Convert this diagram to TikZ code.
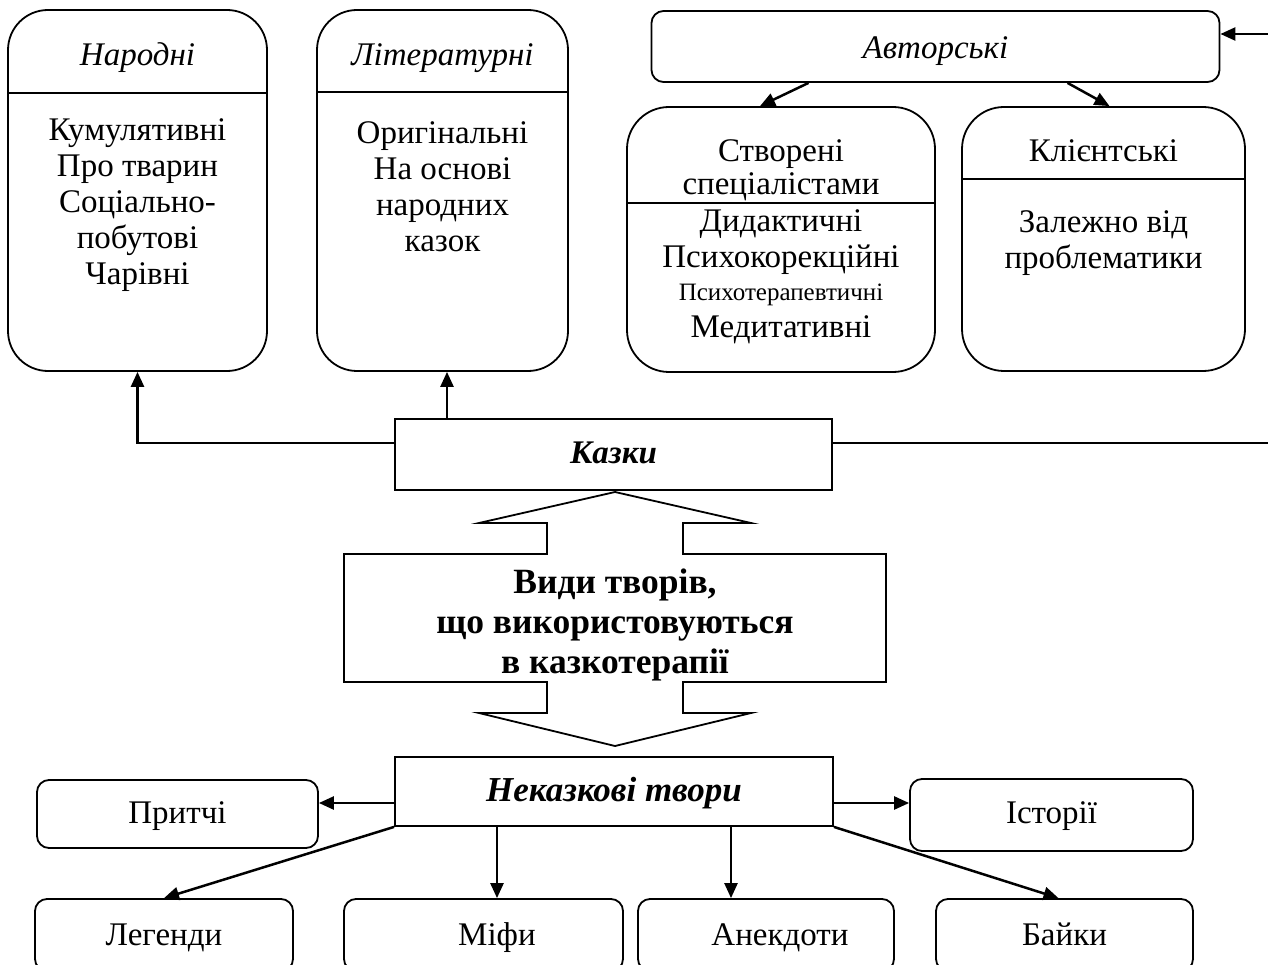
\documentclass[tikz,border=0pt]{standalone}
\usepackage{fontspec}
\setmainfont{Liberation Serif}
\usetikzlibrary{arrows.meta}
\begin{document}
\begin{tikzpicture}[x=1pt,y=-1pt,
  box/.style={draw,line width=1.8pt,inner sep=0pt},
  bigbox/.style={box,rounded corners=40pt},
  smallbox/.style={box,rounded corners=12pt},
  txt/.style={align=center,inner sep=0pt,font=\fontsize{33}{36}\selectfont},
  one/.style={text height=26pt,text depth=5pt},
  btxt/.style={align=center,inner sep=0pt,font=\fontsize{35.5}{40}\selectfont\bfseries},
  divider/.style={line width=1.8pt},
  arr/.style={line width=2.5pt,-{Triangle[length=15pt,width=13pt]}}]
\useasboundingbox (0,0) rectangle (1268,965);

% top-left compartments
\node[bigbox,minimum width=259pt,minimum height=361pt] (narodni) at (137.5,190.5) {};
\draw[divider] (8,93) -- (267,93);
\node[txt,one] (narodniH) at (137.5,55) {\itshape Народні};
\node[txt] (narodniB) at (137.5,205) {Кумулятивні\\Про тварин\\Соціально-\\побутові\\Чарівні};

\node[bigbox,minimum width=251pt,minimum height=361pt] (literaturni) at (442.5,190.5) {};
\draw[divider] (317,92) -- (568,92);
\node[txt,one] (literaturniH) at (442.5,55) {\itshape Літературні};
\node[txt] (literaturniB) at (442.5,187) {Оригінальні\\На основі\\народних\\казок};

% authors
\node[smallbox,minimum width=568pt,minimum height=71pt] (avtorski) at (935.5,46.5) {};
\node[txt,one] (avtorskiT) at (935.5,48) {\itshape Авторські};

\node[bigbox,rounded corners=42pt,minimum width=308pt,minimum height=265pt] (stvoreni) at (781,239.5) {};
\draw[divider] (627,203) -- (935,203);
\node[txt,one] (stvoreniH1) at (781,151) {Створені};
\node[txt,one] (stvoreniH2) at (781,184) {спеціалістами};
\node[txt,one] (s1) at (781,221) {Дидактичні};
\node[txt,one] (s2) at (781,257) {Психокорекційні};
\node[txt,font=\fontsize{25}{30}\selectfont,text height=19pt,text depth=3pt] (s3) at (781,293) {Психотерапевтичні};
\node[txt,one] (s4) at (781,327) {Медитативні};

\node[bigbox,rounded corners=42pt,minimum width=283pt,minimum height=264pt] (klientski) at (1103.5,239) {};
\draw[divider] (962,179) -- (1245,179);
\node[txt,one] (klientskiH) at (1103.5,151) {Клієнтські};
\node[txt] (klientskiB) at (1103.5,243) {Залежно від\\проблематики};

\draw[arr] ([xshift=-127pt]avtorski.south) -- ([xshift=-21pt]stvoreni.north);
\draw[arr] ([xshift=132pt]avtorski.south) -- ([xshift=6pt]klientski.north);

% fairy tales
\node[box,minimum width=437pt,minimum height=71pt] (kazky) at (613.5,454.5) {};
\node[txt,one,font=\fontsize{33}{36}\selectfont\bfseries\itshape] (kazkyT) at (613.5,453) {Казки};

\draw[arr] ([yshift=11.5pt]kazky.west) -| (narodni.south);
\draw[arr] ([xshift=4.5pt]literaturni.south |- kazky.north) -- ([xshift=4.5pt]literaturni.south);
\coordinate (rturn) at (1285,443);
\draw[arr] ([yshift=11.5pt]kazky.east) -- (rturn) |- ([yshift=12.5pt]avtorski.east);

% double arrow
\draw[line width=1.8pt] (615,492) -- (751,523) -- (683,523) -- (683,554) -- (886,554)
  -- (886,682) -- (683,682) -- (683,713) -- (751,713) -- (615,746) -- (479,713)
  -- (547,713) -- (547,682) -- (344,682) -- (344,554) -- (547,554) -- (547,523)
  -- (479,523) -- cycle;
\node[btxt] (vydy) at (615,625) {Види творів,\\що використовуються\\в казкотерапії};

% non-fairy works
\node[box,minimum width=438pt,minimum height=69pt] (nekazkovi) at (614,791.5) {};
\node[txt,one,font=\fontsize{35}{36}\selectfont\bfseries\itshape] (nekazkoviT) at (614,791) {Неказкові твори};

\node[smallbox,minimum width=281pt,minimum height=68pt] (prytchi) at (177.5,814) {};
\node[txt,one] (prytchiT) at (177.5,813) {Притчі};
\node[smallbox,minimum width=283pt,minimum height=72pt] (istorii) at (1051.5,815) {};
\node[txt,one] (istoriiT) at (1051.5,813) {Історії};

\node[smallbox,minimum width=258pt,minimum height=72pt] (legendy) at (164,935) {};
\node[txt,one] (legendyT) at (164,935) {Легенди};
\node[smallbox,minimum width=279pt,minimum height=72pt] (mify) at (483.5,935) {};
\node[txt,one] (mifyT) at (497,935) {Міфи};
\node[smallbox,minimum width=256pt,minimum height=72pt] (anekdoty) at (766,935) {};
\node[txt,one] (anekdotyT) at (780,935) {Анекдоти};
\node[smallbox,minimum width=257pt,minimum height=72pt] (bayky) at (1064.5,935) {};
\node[txt,one] (baykyT) at (1064.5,935) {Байки};

\draw[arr] ([yshift=-11.5pt]nekazkovi.west) -- (prytchi.east |- 0,803);
\draw[arr] ([yshift=-11.5pt]nekazkovi.east) -- (istorii.west |- 0,803);
\draw[arr] (nekazkovi.south west) -- (legendy.north);
\draw[arr] ([xshift=13.5pt]mify.north |- nekazkovi.south) -- ([xshift=13.5pt]mify.north);
\draw[arr] ([xshift=-35pt]anekdoty.north |- nekazkovi.south) -- ([xshift=-35pt]anekdoty.north);
\draw[arr] (nekazkovi.south east) -- ([xshift=-6pt]bayky.north);
\end{tikzpicture}
\end{document}
